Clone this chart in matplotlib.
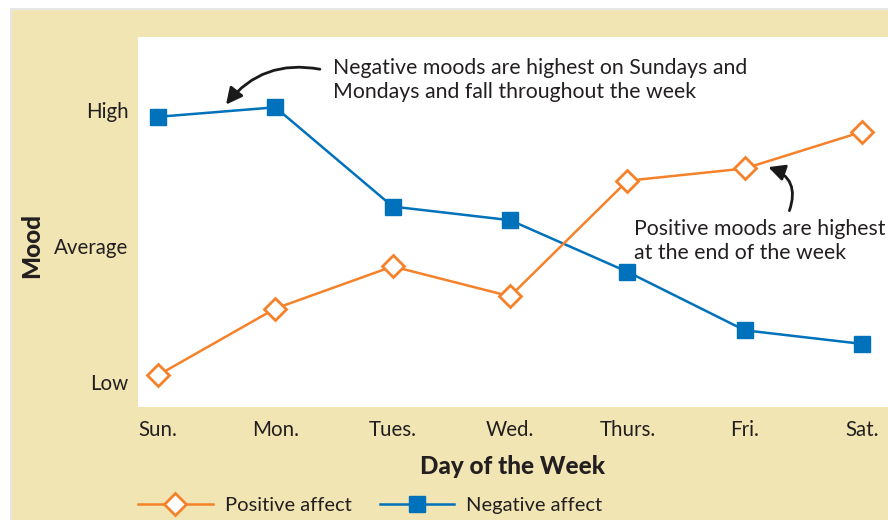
import matplotlib.pyplot as plt
from matplotlib.patches import Rectangle

days = ['Sun.', 'Mon.', 'Tues.', 'Wed.', 'Thurs.', 'Fri.', 'Sat.']
positive = [0.05, 0.54, 0.85, 0.63, 1.48, 1.57, 1.84]
negative = [1.95, 2.02, 1.29, 1.19, 0.81, 0.38, 0.28]
mood_ticks = [0, 1, 2]
mood_labels = ['Low', 'Average', 'High']

orange = '#F5822A'
blue = '#0072BC'
txt = '#231F20'
beige = '#F1E5B3'

plt.rcParams['font.family'] = ['Lato', 'DejaVu Sans']
plt.rcParams['font.size'] = 14

fig = plt.figure(figsize=(8.88, 5.2), dpi=100)
fig.patches.append(Rectangle((10 / 888, 0), 1, 1 - 8 / 520, transform=fig.transFigure,
                             facecolor='#E6E6E6', edgecolor='none', zorder=-2))
fig.patches.append(Rectangle((12 / 888, 0), 1, 1 - 10 / 520, transform=fig.transFigure,
                             facecolor=beige, edgecolor='none', zorder=-1))

ax = fig.add_axes([138 / 888, 1 - 407 / 520, 1 - 138 / 888, 370 / 520])
ax.set_facecolor('white')
x = list(range(len(days)))
ax.plot(x, negative, color=blue, lw=1.8, marker='s', ms=11, mfc=blue, mec=blue,
        label='Negative affect', zorder=3)
ax.plot(x, positive, color=orange, lw=1.8, marker='D', ms=11, mfc='white', mec=orange,
        mew=2, label='Positive affect', zorder=4)

ax.set_xlim(-0.17, 6.22)
ax.set_ylim(-0.184, 2.537)
ax.set_xticks(x)
ax.set_xticklabels(days)
ax.set_yticks(mood_ticks)
ax.set_yticklabels(mood_labels)
ax.tick_params(length=0, colors=txt, labelsize=14.8)
ax.tick_params(axis='x', pad=9)
ax.tick_params(axis='y', pad=7)
for s in ax.spines.values():
    s.set_visible(False)

ax.set_xlabel('Day of the Week', fontweight='black', fontsize=17.5, color=txt, labelpad=11)
fig.text(32 / 888, 1 - 246 / 520, 'Mood', rotation=90, fontweight='black', fontsize=17.5,
         color=txt, ha='center', va='center')

ax.text(1.49, 2.22, 'Negative moods are highest on Sundays and\nMondays and fall throughout the week',
        color=txt, fontsize=15.3, va='center', ha='left', linespacing=1.25)
ax.annotate('', xy=(0.58, 2.04), xytext=(1.38, 2.30),
            arrowprops=dict(arrowstyle='-|>,head_length=0.7,head_width=0.35', color='#1a1a1a',
                            lw=2, connectionstyle='arc3,rad=0.3', shrinkA=0, shrinkB=0))
ax.text(4.06, 1.04, 'Positive moods are highest\nat the end of the week',
        color=txt, fontsize=15.3, va='center', ha='left', linespacing=1.25)
ax.annotate('', xy=(5.20, 1.58), xytext=(5.38, 1.26),
            arrowprops=dict(arrowstyle='-|>,head_length=0.7,head_width=0.35', color='#1a1a1a',
                            lw=2, connectionstyle='arc3,rad=0.5', shrinkA=0, shrinkB=0))

h, l = ax.get_legend_handles_labels()
fig.legend(h[::-1], l[::-1], loc='center left', bbox_to_anchor=(138 / 888, 15 / 520),
           ncol=2, frameon=False, handlelength=3.7, columnspacing=1.4, handletextpad=0.6,
           borderpad=0, borderaxespad=0, fontsize=14.5, labelcolor=txt)

fig.savefig('out.png', dpi=100)
